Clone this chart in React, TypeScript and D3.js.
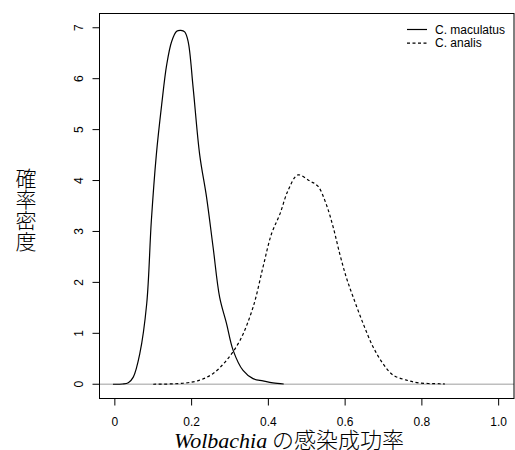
import { useEffect, useRef } from 'react'
import * as d3 from 'd3'

// density of C. maculatus (solid)
const macX = [-0.005, 0.02, 0.035, 0.048, 0.065, 0.083, 0.095, 0.108, 0.122, 0.135, 0.148, 0.161, 0.172, 0.182, 0.191, 0.204, 0.221, 0.239, 0.256, 0.273, 0.291, 0.308, 0.334, 0.36, 0.386, 0.412, 0.44]
const macY = [0, 0.005, 0.03, 0.14, 0.6, 1.58, 3.2, 4.5, 5.49, 6.27, 6.73, 6.93, 6.95, 6.92, 6.73, 5.82, 4.51, 3.67, 2.69, 1.71, 1.19, 0.67, 0.27, 0.11, 0.065, 0.025, 0.005]

// density of C. analis (dashed)
const anaX = [0.1, 0.178, 0.221, 0.256, 0.291, 0.326, 0.36, 0.386, 0.408, 0.43, 0.451, 0.477, 0.508, 0.529, 0.551, 0.569, 0.586, 0.603, 0.621, 0.647, 0.673, 0.699, 0.725, 0.76, 0.794, 0.846, 0.86]
const anaY = [0, 0.02, 0.08, 0.21, 0.47, 0.86, 1.51, 2.3, 2.95, 3.34, 3.8, 4.11, 3.99, 3.89, 3.53, 3.08, 2.56, 2.1, 1.71, 1.19, 0.73, 0.4, 0.18, 0.08, 0.025, 0.01, 0.005]

const xTicks = [0, 0.2, 0.4, 0.6, 0.8, 1.0]
const yTicks = [0, 1, 2, 3, 4, 5, 6, 7]
const seriesNames = ['C. maculatus', 'C. analis']

const sans = '"Liberation Sans", Arial, sans-serif'
const cjk = '"Noto Sans CJK JP", sans-serif'

const App = () => {
  const ref = useRef(null)

  const draw = () => {
    const width = 515, height = 450
    const left = 99.5, right = 514, top = 13.5, bottom = 398.5

    const root = d3.select(ref.current)
    root.selectAll('*').remove()
    const svg = root.append('svg')
      .attr('width', width)
      .attr('height', height)
      .style('display', 'block')

    const x = d3.scaleLinear().domain([-0.04, 1.04]).range([left, right])
    const y = d3.scaleLinear().domain([-0.28, 7.28]).range([bottom, top])

    // zero line
    svg.append('line')
      .attr('x1', left).attr('x2', right)
      .attr('y1', y(0)).attr('y2', y(0))
      .attr('stroke', '#bebebe').attr('stroke-width', 1.5)

    const line = d3.line().x(d => x(d[0])).y(d => y(d[1])).curve(d3.curveCatmullRom)

    svg.append('path')
      .attr('d', line(macX.map((v, i) => [v, macY[i]])))
      .attr('fill', 'none').attr('stroke', '#000').attr('stroke-width', 1.2)

    svg.append('path')
      .attr('d', line(anaX.map((v, i) => [v, anaY[i]])))
      .attr('fill', 'none').attr('stroke', '#000').attr('stroke-width', 1.2)
      .attr('stroke-dasharray', '3,2.5')

    // box
    svg.append('rect')
      .attr('x', left).attr('y', top)
      .attr('width', right - left).attr('height', bottom - top)
      .attr('fill', 'none').attr('stroke', '#000').attr('stroke-width', 1)

    // x axis
    const xa = svg.append('g')
    xa.selectAll('line').data(xTicks).enter().append('line')
      .attr('x1', d => x(d)).attr('x2', d => x(d))
      .attr('y1', bottom).attr('y2', bottom + 7)
      .attr('stroke', '#000')
    xa.selectAll('text').data(xTicks).enter().append('text')
      .attr('x', d => x(d)).attr('y', 426)
      .attr('text-anchor', 'middle')
      .style('font-family', sans).style('font-size', '12px')
      .text(d => d === 0 ? '0' : d3.format('.1f')(d))

    // y axis
    const ya = svg.append('g')
    ya.selectAll('line').data(yTicks).enter().append('line')
      .attr('x1', left - 7).attr('x2', left)
      .attr('y1', d => y(d)).attr('y2', d => y(d))
      .attr('stroke', '#000')
    ya.selectAll('text').data(yTicks).enter().append('text')
      .attr('transform', d => `translate(83,${y(d)}) rotate(-90)`)
      .attr('text-anchor', 'middle')
      .style('font-family', sans).style('font-size', '12px')
      .text(d => d)

    // legend
    const lg = svg.append('g')
    seriesNames.forEach((name, i) => {
      const ly = 29.5 + i * 13.7
      lg.append('line')
        .attr('x1', 407).attr('x2', 427).attr('y1', ly).attr('y2', ly)
        .attr('stroke', '#000').attr('stroke-width', 1.2)
        .attr('stroke-dasharray', i === 1 ? '3,2.5' : null)
      lg.append('text')
        .attr('x', 435).attr('y', ly + 4)
        .style('font-family', sans).style('font-size', '12px')
        .text(name)
    })

    // y label
    svg.append('text')
      .attr('x', 26).attr('y', 210)
      .attr('text-anchor', 'middle')
      .style('writing-mode', 'vertical-rl')
      .style('font-family', cjk).style('font-size', '21px')
      .style('font-weight', 300)
      .text('確率密度')

    // x label
    const xl = svg.append('text')
      .attr('x', 289).attr('y', 448)
      .attr('text-anchor', 'middle')
      .style('font-size', '22px')
    xl.append('tspan')
      .style('font-family', '"Liberation Serif", serif').style('font-style', 'italic')
      .text('Wolbachia')
    xl.append('tspan')
      .style('font-family', cjk).style('font-weight', 300)
      .text(' の感染成功率')
  }

  useEffect(() => {
    draw()
  }, [])

  return (
    <div ref={ref} style={{ position: 'absolute', left: 0, top: 0 }}></div>
  )
}

export default App
